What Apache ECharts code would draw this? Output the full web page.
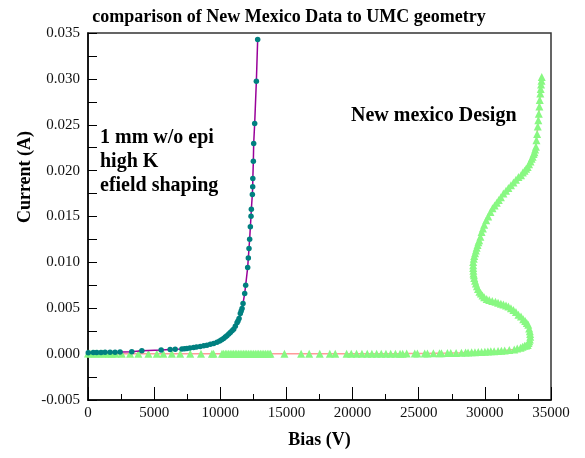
<!DOCTYPE html>
<html>
<head>
<meta charset="utf-8">
<title>comparison of New Mexico Data to UMC geometry</title>
<script src="https://cdn.jsdelivr.net/npm/echarts@6/dist/echarts.min.js"></script>
<style>
  html, body { margin: 0; padding: 0; background: #ffffff; }
  #chart { width: 585px; height: 458px; }
</style>
</head>
<body>
<div id="chart"></div>
<script>
// 1 mm w/o epi, high K, efield shaping (teal dots on purple line)
const umcBias = [20, 400, 660, 985, 1290, 1670, 2045, 2425, 3310, 4070, 5530, 6210, 6590, 7100,
  7300, 7475, 7700, 7980, 8200, 8485, 8750, 8990, 9250, 9500, 9750, 9950, 10100, 10250, 10380,
  10500, 10640, 10760, 10890, 11010, 11136, 11265, 11340, 11420, 11515, 11580, 11645, 11720,
  11845, 11920, 12070, 12121, 12170, 12220, 12273, 12323, 12348, 12424, 12450, 12460, 12500,
  12525, 12600, 12727, 12826]
const umcCurrent = [0.00015, 0.00017, 0.00018, 0.00019, 0.0002, 0.0002, 0.00021, 0.00022, 0.00025,
  0.00036, 0.00044, 0.0005, 0.00052, 0.00055, 0.00058, 0.00062, 0.00066, 0.00073, 0.00078, 0.00084,
  0.00091, 0.00098, 0.00107, 0.00117, 0.0013, 0.00142, 0.00156, 0.00171, 0.00186, 0.002, 0.00218,
  0.00236, 0.00254, 0.00272, 0.00305, 0.00341, 0.00362, 0.00389, 0.00443, 0.0047, 0.00498, 0.00552,
  0.00661, 0.00752, 0.00944, 0.01049, 0.01151, 0.01253, 0.01387, 0.01503, 0.0158, 0.0174, 0.01823,
  0.01914, 0.02102, 0.02295, 0.02513, 0.02974, 0.03428]

// New mexico Design (green triangles on pink line)
const nmBias = [0, 150, 330, 530, 730, 910, 1080, 1290, 1540, 1790, 2100, 2550, 3180, 3810, 4570,
  5200, 5700, 6340, 6970, 7730, 8540, 9370, 9490, 10130, 10250, 10380, 10500, 10620, 10750, 10880,
  11000, 11130, 11250, 11380, 11500, 11630, 11760, 11880, 12000, 12130, 12260, 12390, 12520, 12650,
  12780, 12900, 13030, 13160, 13290, 13420, 13550, 13680, 13790, 14850, 16110, 16720, 17520, 18280,
  18690, 19550, 19900, 20300, 20710, 21110, 21460, 21820, 22170, 22520, 22880, 23240, 23590, 23790,
  24090, 24700, 24900, 25450, 25660, 26110, 26570, 26720, 27170, 27420, 27830, 28230, 28540, 28730,
  29000, 29250, 29500, 29750, 30000, 30230, 30450, 30700, 31000, 31250, 31500, 31850, 32220, 32450,
  32700, 32850, 33000, 33120, 33240, 33300, 33350, 33400, 33430, 33420, 33400, 33350, 33280, 33170,
  33050, 32900, 32730, 32540, 32350, 32160, 31970, 31780, 31600, 31400, 31210, 31000, 30800, 30560,
  30330, 30140, 29950, 29820, 29700, 29590, 29480, 29400, 29320, 29260, 29200, 29170, 29140, 29130,
  29120, 29120, 29120, 29160, 29200, 29260, 29320, 29380, 29450, 29510, 29570, 29660, 29750, 29850,
  29950, 30100, 30250, 30420, 30580, 30740, 30900, 31050, 31210, 31400, 31600, 31780, 31970, 32160,
  32350, 32540, 32730, 32870, 33000, 33120, 33235, 33340, 33450, 33530, 33610, 33680, 33750, 33800,
  33860, 33900, 33950, 34000, 34040, 34080, 34120, 34150, 34190, 34220, 34250, 34280, 34300]
const nmCurrent = [0.00006, 0.00006, 0.00006, 0.00006, 0.00006, 0.00006, 0.00006, 0.00006, 0.00005,
  0.00005, 0.00005, 0.00005, 0.00005, 0.00005, 0.00005, 0.00005, 0.00005, 0.00005, 0.00005, 0.00005,
  0.00005, 0.00005, 0.00005, 0.00005, 0.00005, 0.00005, 0.00005, 0.00005, 0.00005, 0.00005, 0.00005,
  0.00005, 0.00005, 0.00005, 0.00005, 0.00005, 0.00005, 0.00005, 0.00005, 0.00005, 0.00005, 0.00005,
  0.00005, 0.00005, 0.00005, 0.00005, 0.00005, 0.00005, 0.00005, 0.00005, 0.00005, 0.00005, 0.00005,
  0.00005, 0.00005, 0.00005, 0.00005, 0.00005, 0.00005, 0.00005, 0.00005, 0.00005, 0.00005, 0.00005,
  0.00005, 0.00005, 0.00005, 0.00005, 0.00005, 0.00005, 0.00005, 0.00005, 0.00006, 0.00006, 0.00006,
  0.00007, 0.00008, 0.00009, 0.0001, 0.0001, 0.00011, 0.00012, 0.00013, 0.00015, 0.00017, 0.00018,
  0.0002, 0.00021, 0.00022, 0.00024, 0.00025, 0.00028, 0.0003, 0.00032, 0.00034, 0.00037, 0.0004,
  0.00045, 0.0005, 0.0006, 0.0007, 0.0008, 0.0009, 0.00095, 0.001, 0.0012, 0.0014, 0.0016, 0.0019,
  0.0022, 0.0025, 0.0028, 0.0032, 0.0034, 0.0036, 0.0038, 0.0041, 0.0043, 0.0046, 0.0048, 0.005,
  0.0052, 0.0053, 0.0054, 0.0055, 0.0056, 0.0057, 0.0058, 0.0059, 0.006, 0.0062, 0.0064, 0.0066,
  0.0068, 0.0071, 0.0074, 0.0077, 0.008, 0.0083, 0.0086, 0.0088, 0.0091, 0.0094, 0.0097, 0.01005,
  0.0104, 0.0107, 0.011, 0.0113, 0.0116, 0.0119, 0.0122, 0.0124, 0.0128, 0.0133, 0.0137, 0.0141,
  0.0146, 0.015, 0.0155, 0.0159, 0.0162, 0.0165, 0.0168, 0.0171, 0.0175, 0.0178, 0.0181, 0.0184,
  0.0187, 0.019, 0.0193, 0.0195, 0.0198, 0.02, 0.0202, 0.0204, 0.0207, 0.021, 0.0213, 0.0215, 0.0218,
  0.022, 0.0223, 0.0226, 0.0233, 0.024, 0.0248, 0.0255, 0.0262, 0.027, 0.0277, 0.0284, 0.0289,
  0.0294, 0.0298, 0.0302]

const serif = "'Liberation Serif', 'Times New Roman', serif"

const chart = echarts.init(document.getElementById('chart'))

const axisCommon = {
  axisLine: { show: true, onZero: false, lineStyle: { color: '#000', width: 1.5 } },
  splitLine: { show: false },
  axisLabel: { color: '#111', fontFamily: serif, fontSize: 15 }
}

chart.setOption({
  animation: false,
  backgroundColor: '#ffffff',
  title: {
    text: 'comparison of New Mexico Data to UMC geometry',
    left: 284,
    textAlign: 'center',
    top: 3,
    textStyle: { fontFamily: serif, fontSize: 18, fontWeight: 'bold', color: '#000' }
  },
  grid: {
    left: 88,
    right: 34,
    top: 33,
    bottom: 58,
    show: true,
    borderColor: '#333',
    borderWidth: 1.5
  },
  xAxis: {
    ...axisCommon,
    type: 'value',
    min: 0,
    max: 35000,
    interval: 5000,
    name: 'Bias (V)',
    nameLocation: 'middle',
    nameGap: 31,
    nameTextStyle: { fontFamily: serif, fontSize: 18, fontWeight: 'bold', color: '#000' },
    axisTick: { inside: true, length: 13, lineStyle: { color: '#000' } },
    minorTick: { show: true, splitNumber: 2, length: 6, lineStyle: { color: '#000' } },
    axisLabel: { ...axisCommon.axisLabel, margin: 6, formatter: v => String(v) }
  },
  yAxis: {
    ...axisCommon,
    type: 'value',
    min: -0.005,
    max: 0.035,
    interval: 0.005,
    axisTick: { inside: true, length: 9, lineStyle: { color: '#000' } },
    minorTick: { show: true, splitNumber: 2, length: 9, lineStyle: { color: '#000' } },
    axisLabel: {
      ...axisCommon.axisLabel,
      margin: 8,
      formatter: v => v.toFixed(3)
    }
  },
  graphic: [
    {
      type: 'text',
      x: 25,
      y: 177,
      rotation: Math.PI / 2,
      style: {
        text: 'Current (A)',
        font: `bold 18px ${serif}`,
        fill: '#000',
        textAlign: 'center',
        textVerticalAlign: 'middle'
      }
    },
    {
      type: 'text',
      left: 100,
      top: 126,
      style: {
        text: '1 mm w/o epi\nhigh K\nefield shaping',
        font: `bold 20px ${serif}`,
        lineHeight: 24,
        fill: '#000'
      }
    },
    {
      type: 'text',
      left: 351,
      top: 106,
      style: {
        text: 'New mexico Design',
        font: `bold 20px ${serif}`,
        fill: '#000'
      }
    }
  ],
  series: [
    {
      name: 'New mexico Design',
      type: 'line',
      data: nmBias.map((b, i) => [b, nmCurrent[i]]),
      symbol: 'triangle',
      symbolSize: 8,
      itemStyle: { color: '#88f882' },
      lineStyle: { color: '#ff9a9a', width: 1.5 },
      z: 2
    },
    {
      name: '1 mm w/o epi',
      type: 'line',
      data: umcBias.map((b, i) => [b, umcCurrent[i]]),
      symbol: 'circle',
      symbolSize: 5.5,
      itemStyle: { color: '#008080' },
      lineStyle: { color: '#990099', width: 1.5 },
      z: 3
    }
  ]
})
</script>
</body>
</html>
